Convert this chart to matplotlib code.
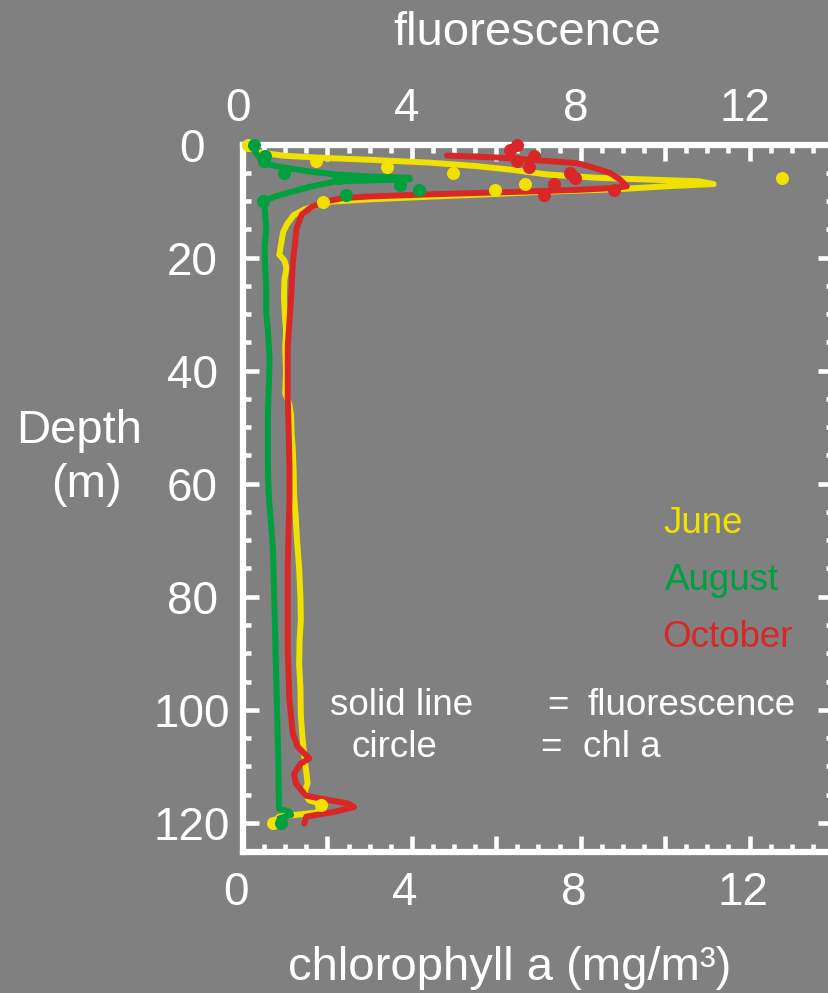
import matplotlib
matplotlib.use("Agg")
import matplotlib.pyplot as plt
import matplotlib.transforms as mtransforms
from matplotlib.ticker import MultipleLocator, FuncFormatter

plt.rcParams['font.family'] = ['Liberation Sans', 'DejaVu Sans']

# ---- fluorescence profiles (value, depth m) ----
june_fl_x = [0.15, 0.25, 0.45, 1.0, 2.0, 3.0, 4.4, 5.5, 6.4, 7.2, 8.4, 9.2, 10.0, 10.8, 11.15,
             10.0, 8.9, 7.0, 5.5, 4.5, 3.0, 2.1, 1.8, 1.45, 1.2, 1.05, 0.95, 0.9, 0.86, 0.98,
             1.03, 0.98, 0.97, 0.99, 1.02, 1.0, 1.02, 1.0, 1.1, 1.14, 1.15, 1.18, 1.2, 1.21,
             1.25, 1.28, 1.33, 1.36, 1.37, 1.34, 1.33, 1.36, 1.37, 1.41, 1.45, 1.5, 1.53,
             1.45, 1.57, 1.95, 1.72, 0.86, 0.71]
june_fl_d = [0.2, 0.9, 1.5, 2.0, 2.4, 2.7, 3.2, 3.8, 4.5, 5.3, 5.9, 6.1, 6.3, 6.5, 7.0,
             7.4, 7.9, 8.4, 8.9, 9.2, 9.7, 10.1, 10.6, 11.5, 12.5, 14.0, 15.5, 17.7, 19.5, 20.5,
             21.8, 24.0, 27.0, 30.0, 33.0, 36.0, 40.0, 44.0, 46.0, 48.0, 51.0, 54.0, 58.0, 62.0,
             66.0, 70.0, 75.0, 80.0, 84.0, 88.0, 92.0, 96.0, 101.0, 105.0, 108.0, 111.0, 113.0,
             114.8, 116.0, 116.9, 118.2, 118.9, 119.8]

aug_fl_x = [0.27, 0.28, 0.40, 0.45, 0.84, 1.5, 2.18, 3.0, 3.95, 3.95, 3.0, 2.18, 1.63, 1.23,
            0.76, 0.5, 0.53, 0.55, 0.51, 0.52, 0.55, 0.55, 0.59, 0.63, 0.62, 0.59, 0.59, 0.59,
            0.6, 0.62, 0.67, 0.71, 0.74, 0.76, 0.78, 0.8, 0.82, 0.84, 0.85, 1.1, 1.14, 0.86, 0.9]
aug_fl_d = [0.3, 1.2, 2.4, 3.3, 3.9, 4.7, 5.3, 5.65, 5.9, 6.2, 6.35, 6.55, 7.4, 8.2,
            9.2, 10.0, 13.0, 15.0, 18.0, 21.0, 25.0, 29.8, 32.8, 38.0, 41.0, 47.5, 52.0, 56.4,
            60.0, 63.0, 67.6, 71.7, 80.6, 86.0, 92.4, 98.0, 104.2, 110.0, 117.5, 118.0, 118.6,
            119.2, 120.1]

oct_fl_x = [4.83, 6.01, 6.80, 7.91, 8.22, 8.70, 8.93, 9.09, 8.77, 7.99, 6.8, 4.5, 2.97, 2.34,
            2.02, 1.63, 1.39, 1.27, 1.22, 1.18, 1.14, 1.06, 1.06, 1.10, 1.10, 1.08, 1.06, 1.06,
            1.06, 1.10, 1.18, 1.29, 1.57, 1.37, 1.21, 1.25, 1.49, 2.5, 2.63, 2.19, 1.5, 1.45]
oct_fl_d = [1.95, 2.3, 2.7, 3.3, 3.9, 5.05, 6.2, 7.4, 7.7, 8.0, 8.3, 8.8, 9.2, 9.5,
            10.0, 11.0, 12.4, 14.8, 18.3, 21.0, 26.9, 35.8, 44.6, 56.4, 62.9, 68.0, 74.7, 82.0,
            89.4, 98.3, 104.2, 106.5, 108.6, 109.5, 111.3, 113.0, 115.2, 116.6, 117.2, 118.0,
            118.9, 120.1]

# ---- chlorophyll a bottle samples (mg/m3, depth m) ----
june_chl_x = [0.12, 1.72, 3.41, 4.98, 12.78, 6.69, 5.96, 1.90, 1.85, 0.70]
june_chl_d = [0.0, 3.0, 4.0, 5.1, 5.95, 7.0, 8.0, 10.1, 116.8, 120.0]

aug_chl_x = [0.27, 0.52, 0.50, 0.98, 2.27, 3.72, 4.16, 2.43, 0.47, 0.90]
aug_chl_d = [0.0, 2.1, 3.0, 5.1, 5.95, 7.1, 8.0, 9.0, 10.0, 120.0]

oct_chl_x = [6.49, 6.32, 6.90, 6.49, 6.77, 7.75, 7.87, 7.37, 8.78, 7.12]
oct_chl_d = [0.05, 1.06, 2.0, 3.0, 4.0, 5.1, 5.95, 7.0, 8.0, 9.0]

months = ["June", "August", "October"]
colors = ["#F0E100", "#00A040", "#D92727"]
bg = "#808080"

W, H = 829, 993
fig = plt.figure(figsize=(W / 100, H / 100), dpi=100, facecolor=bg)


def fx(px):
    return px / W


def fy(py):
    return 1 - py / H


ax = fig.add_axes([fx(243), fy(851.7), (834 - 243) / W, (851.7 - 144.5) / H])
ax.set_facecolor(bg)
ax.set_xlim(0, 14)
ax.set_ylim(125.1, 0)

profiles = [(june_fl_x, june_fl_d), (aug_fl_x, aug_fl_d), (oct_fl_x, oct_fl_d)]
samples = [(june_chl_x, june_chl_d), (aug_chl_x, aug_chl_d), (oct_chl_x, oct_chl_d)]

for (x, d), c in zip(profiles, colors):
    ax.plot(x, d, color=c, lw=4.3, solid_joinstyle='round', solid_capstyle='round', zorder=2)
for (x, d), c in zip(samples, colors):
    ax.plot(x, d, 'o', color=c, ms=9.4, mec='none', zorder=3, clip_on=False)

for s in ax.spines.values():
    s.set_color('white')
    s.set_linewidth(4.5)

ax.xaxis.set_major_locator(MultipleLocator(2))
ax.xaxis.set_minor_locator(MultipleLocator(0.5))
ax.xaxis.set_major_formatter(FuncFormatter(lambda v, p: f"{v:.0f}" if round(v) % 4 == 0 else ""))
ax.yaxis.set_major_locator(MultipleLocator(20))
ax.yaxis.set_minor_locator(MultipleLocator(5))
ax.yaxis.set_major_formatter(FuncFormatter(lambda v, p: f"{v:.0f}"))

ax.tick_params(which='both', direction='in', top=True, right=True, bottom=True, left=True,
               labeltop=True, labelbottom=True, labelleft=True, labelright=False,
               color='white', labelcolor='white', width=3.3, labelsize=33)
ax.tick_params(which='major', length=11.5)
ax.tick_params(which='minor', length=6)
ax.tick_params(axis='x', which='major', pad=10)
ax.tick_params(axis='y', which='major', pad=36.7)

fig.canvas.draw()
for lbl in ax.get_yticklabels():
    lbl.set_horizontalalignment('center')
shift_b = mtransforms.ScaledTranslation(-7 / 100, -5 / 100, fig.dpi_scale_trans)
shift_t = mtransforms.ScaledTranslation(-5 / 100, 0, fig.dpi_scale_trans)
for t in ax.xaxis.get_major_ticks():
    t.label1.set_transform(t.label1.get_transform() + shift_b)
    t.label2.set_transform(t.label2.get_transform() + shift_t)

# axis titles
fig.text(fx(527), fy(45), "fluorescence", color='white', fontsize=34, ha='center', va='baseline')
fig.text(fx(510), fy(980), "chlorophyll a (mg/m³)", color='white', fontsize=34,
         ha='center', va='baseline')
fig.text(fx(79), fy(443), "Depth", color='white', fontsize=34, ha='center', va='baseline')
fig.text(fx(86), fy(497), "(m)", color='white', fontsize=34, ha='center', va='baseline')

# month key
for name, c, xl, yb in zip(months, colors, [663, 665, 662], [533, 590, 647]):
    fig.text(fx(xl), fy(yb), name, color=c, fontsize=26.5, ha='left', va='baseline')

# symbol key
fig.text(fx(330), fy(715), "solid line", color='white', fontsize=26.5, va='baseline')
fig.text(fx(547), fy(715), "=", color='white', fontsize=26.5, va='baseline')
fig.text(fx(588), fy(715), "fluorescence", color='white', fontsize=26.5, va='baseline')
fig.text(fx(352), fy(757), "circle", color='white', fontsize=26.5, va='baseline')
fig.text(fx(540), fy(757), "=", color='white', fontsize=26.5, va='baseline')
fig.text(fx(583), fy(757), "chl a", color='white', fontsize=26.5, va='baseline')

fig.savefig("out.png", dpi=100, facecolor=bg)
